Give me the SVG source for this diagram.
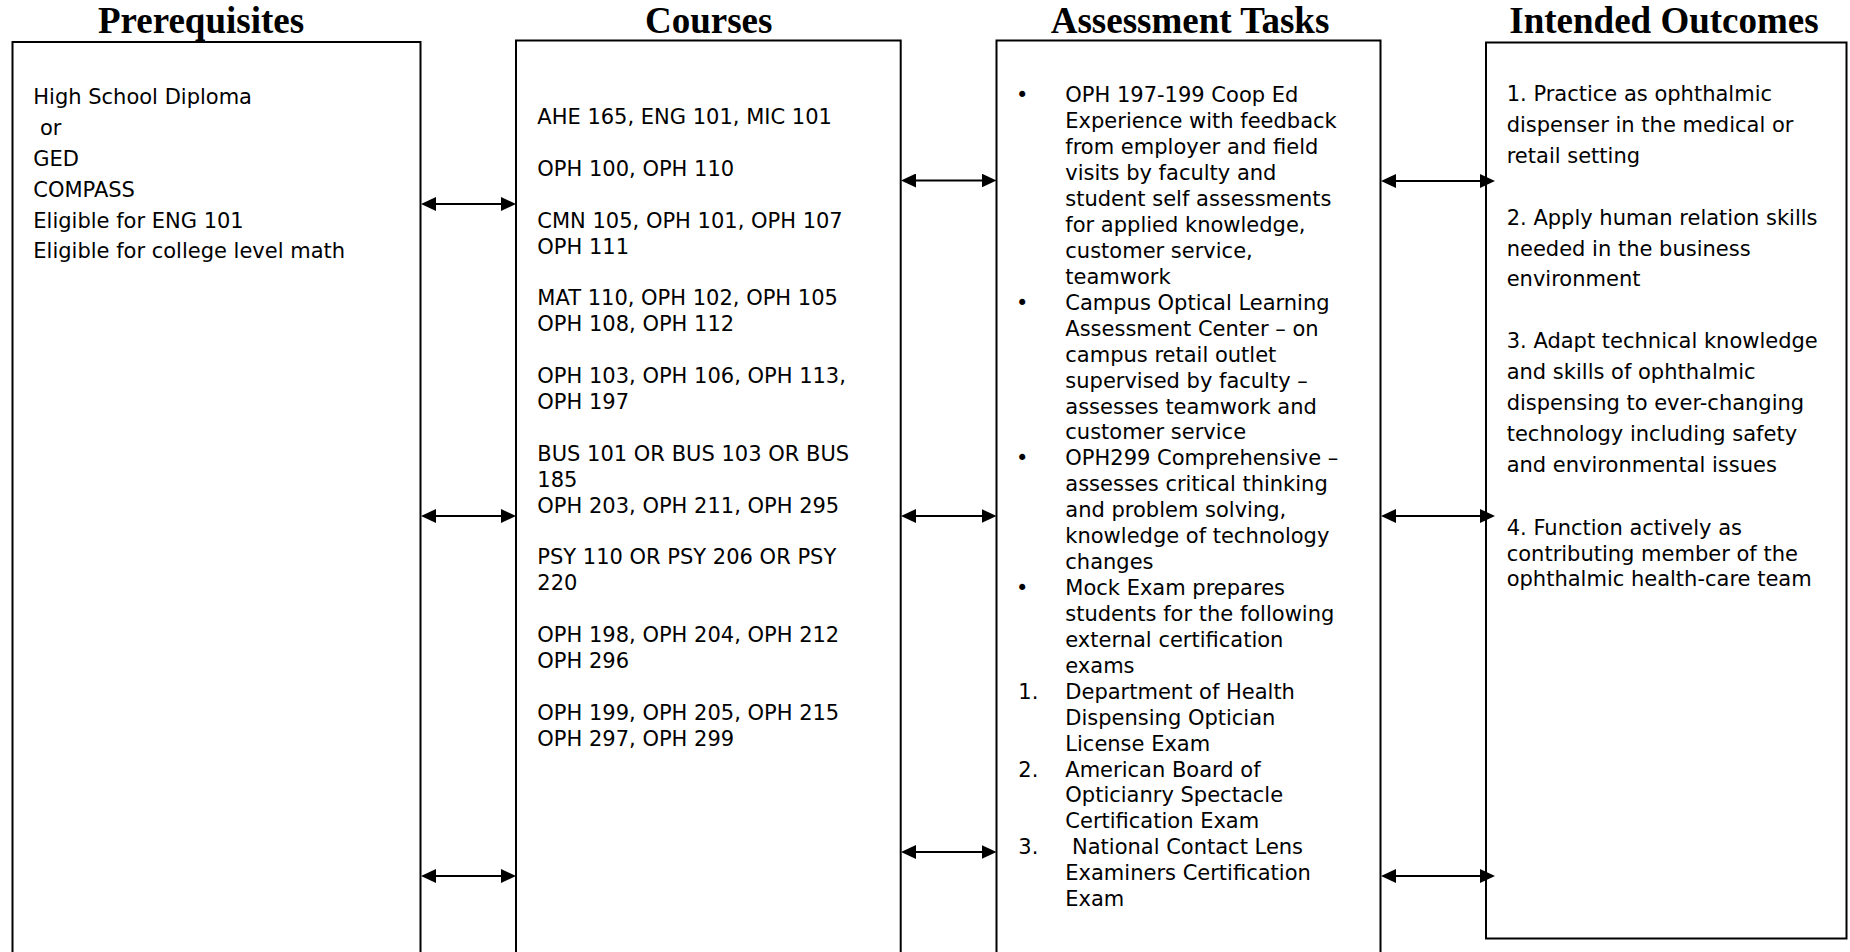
<svg xmlns="http://www.w3.org/2000/svg" width="1850" height="952" viewBox="0 0 1850 952">
<style>
.title{font-family:"Liberation Serif","Times New Roman",serif;font-weight:bold;font-size:37px;fill:#000;text-anchor:middle}
.t{font-family:"DejaVu Sans",Verdana,sans-serif;font-size:21px;fill:#000}
.bul{font-family:"DejaVu Sans",Verdana,sans-serif;font-size:21px;fill:#000;text-anchor:middle}
.box{fill:#fff;stroke:#000;stroke-width:2}
.conn{stroke:#000;stroke-width:2;fill:none;marker-start:url(#ah);marker-end:url(#ah)}
</style>
<defs>
<marker id="ah" viewBox="0 0 15 14" refX="1" refY="7" markerWidth="15" markerHeight="14" markerUnits="userSpaceOnUse" orient="auto-start-reverse">
<path d="M0,0 L15,7 L0,14 z" fill="#000"/>
</marker>
</defs>
<rect width="1850" height="952" fill="#fff"/>

<g id="prerequisites">
<text class="title" x="201" y="33">Prerequisites</text>
<rect class="box" x="12.5" y="42" width="408" height="930"/>
<text class="t" x="33.3" y="104">High School Diploma</text>
<text class="t" x="40" y="135">or</text>
<text class="t" x="33.3" y="165.7">GED</text>
<text class="t" x="33.3" y="196.6">COMPASS</text>
<text class="t" x="33.3" y="227.5">Eligible for ENG 101</text>
<text class="t" x="33.3" y="258.3">Eligible for college level math</text>
</g>

<g id="courses">
<text class="title" x="708.7" y="33">Courses</text>
<rect class="box" x="516" y="40.5" width="384.7" height="930"/>
<text class="t" x="537.3" y="124">AHE 165, ENG 101, MIC 101</text>
<text class="t" x="537.3" y="175.8">OPH 100, OPH 110</text>
<text class="t" x="537.3" y="227.6">CMN 105, OPH 101, OPH 107</text>
<text class="t" x="537.3" y="253.5">OPH 111</text>
<text class="t" x="537.3" y="305.3">MAT 110, OPH 102, OPH 105</text>
<text class="t" x="537.3" y="331.2">OPH 108, OPH 112</text>
<text class="t" x="537.3" y="383">OPH 103, OPH 106, OPH 113,</text>
<text class="t" x="537.3" y="408.9">OPH 197</text>
<text class="t" x="537.3" y="460.7">BUS 101 OR BUS 103 OR BUS</text>
<text class="t" x="537.3" y="486.6">185</text>
<text class="t" x="537.3" y="512.5">OPH 203, OPH 211, OPH 295</text>
<text class="t" x="537.3" y="564.3">PSY 110 OR PSY 206 OR PSY</text>
<text class="t" x="537.3" y="590.2">220</text>
<text class="t" x="537.3" y="642">OPH 198, OPH 204, OPH 212</text>
<text class="t" x="537.3" y="667.9">OPH 296</text>
<text class="t" x="537.3" y="719.7">OPH 199, OPH 205, OPH 215</text>
<text class="t" x="537.3" y="745.6">OPH 297, OPH 299</text>
</g>

<g id="assessment-tasks">
<text class="title" x="1190" y="33">Assessment Tasks</text>
<rect class="box" x="996.5" y="40.5" width="384" height="930"/>
<text class="bul" x="1022.3" y="102.3">•</text>
<text class="bul" x="1022.3" y="309.7">•</text>
<text class="bul" x="1022.3" y="465.3">•</text>
<text class="bul" x="1022.3" y="595">•</text>
<text class="t" x="1018.3" y="698.7">1.</text>
<text class="t" x="1018.3" y="776.5">2.</text>
<text class="t" x="1018.3" y="854.3">3.</text>
<text class="t" x="1065.3" y="102.3">OPH 197-199 Coop Ed</text>
<text class="t" x="1065.3" y="128.2">Experience with feedback</text>
<text class="t" x="1065.3" y="154.2">from employer and field</text>
<text class="t" x="1065.3" y="180.1">visits by faculty and</text>
<text class="t" x="1065.3" y="206">student self assessments</text>
<text class="t" x="1065.3" y="232">for applied knowledge,</text>
<text class="t" x="1065.3" y="257.9">customer service,</text>
<text class="t" x="1065.3" y="283.8">teamwork</text>
<text class="t" x="1065.3" y="309.7">Campus Optical Learning</text>
<text class="t" x="1065.3" y="335.7">Assessment Center – on</text>
<text class="t" x="1065.3" y="361.6">campus retail outlet</text>
<text class="t" x="1065.3" y="387.5">supervised by faculty –</text>
<text class="t" x="1065.3" y="413.5">assesses teamwork and</text>
<text class="t" x="1065.3" y="439.4">customer service</text>
<text class="t" x="1065.3" y="465.3">OPH299 Comprehensive –</text>
<text class="t" x="1065.3" y="491.3">assesses critical thinking</text>
<text class="t" x="1065.3" y="517.2">and problem solving,</text>
<text class="t" x="1065.3" y="543.1">knowledge of technology</text>
<text class="t" x="1065.3" y="569">changes</text>
<text class="t" x="1065.3" y="595">Mock Exam prepares</text>
<text class="t" x="1065.3" y="620.9">students for the following</text>
<text class="t" x="1065.3" y="646.8">external certification</text>
<text class="t" x="1065.3" y="672.8">exams</text>
<text class="t" x="1065.3" y="698.7">Department of Health</text>
<text class="t" x="1065.3" y="724.6">Dispensing Optician</text>
<text class="t" x="1065.3" y="750.6">License Exam</text>
<text class="t" x="1065.3" y="776.5">American Board of</text>
<text class="t" x="1065.3" y="802.4">Opticianry Spectacle</text>
<text class="t" x="1065.3" y="828.3">Certification Exam</text>
<text class="t" x="1072" y="854.3">National Contact Lens</text>
<text class="t" x="1065.3" y="880.2">Examiners Certification</text>
<text class="t" x="1065.3" y="906.1">Exam</text>
</g>

<g id="intended-outcomes">
<text class="title" x="1664" y="32.5">Intended Outcomes</text>
<rect class="box" x="1486" y="42.5" width="360.5" height="896"/>
<text class="t" x="1506.7" y="100.7">1. Practice as ophthalmic</text>
<text class="t" x="1506.7" y="131.7">dispenser in the medical or</text>
<text class="t" x="1506.7" y="162.6">retail setting</text>
<text class="t" x="1506.7" y="224.5">2. Apply human relation skills</text>
<text class="t" x="1506.7" y="255.5">needed in the business</text>
<text class="t" x="1506.7" y="286.4">environment</text>
<text class="t" x="1506.7" y="348.3">3. Adapt technical knowledge</text>
<text class="t" x="1506.7" y="379.3">and skills of ophthalmic</text>
<text class="t" x="1506.7" y="410.2">dispensing to ever-changing</text>
<text class="t" x="1506.7" y="441.2">technology including safety</text>
<text class="t" x="1506.7" y="472.1">and environmental issues</text>
<text class="t" x="1506.7" y="535.3">4. Function actively as</text>
<text class="t" x="1506.7" y="560.7">contributing member of the</text>
<text class="t" x="1506.7" y="586">ophthalmic health-care team</text>
</g>

<g id="connectors">
<line class="conn" x1="435" y1="204" x2="502" y2="204"/>
<line class="conn" x1="435" y1="516" x2="502" y2="516"/>
<line class="conn" x1="435" y1="876" x2="502" y2="876"/>
<line class="conn" x1="915" y1="180.5" x2="982.5" y2="180.5"/>
<line class="conn" x1="915" y1="516" x2="982.5" y2="516"/>
<line class="conn" x1="915" y1="852" x2="982.5" y2="852"/>
<line class="conn" x1="1395" y1="181" x2="1481" y2="181"/>
<line class="conn" x1="1395" y1="516" x2="1481" y2="516"/>
<line class="conn" x1="1395" y1="876" x2="1481" y2="876"/>
</g>
</svg>
